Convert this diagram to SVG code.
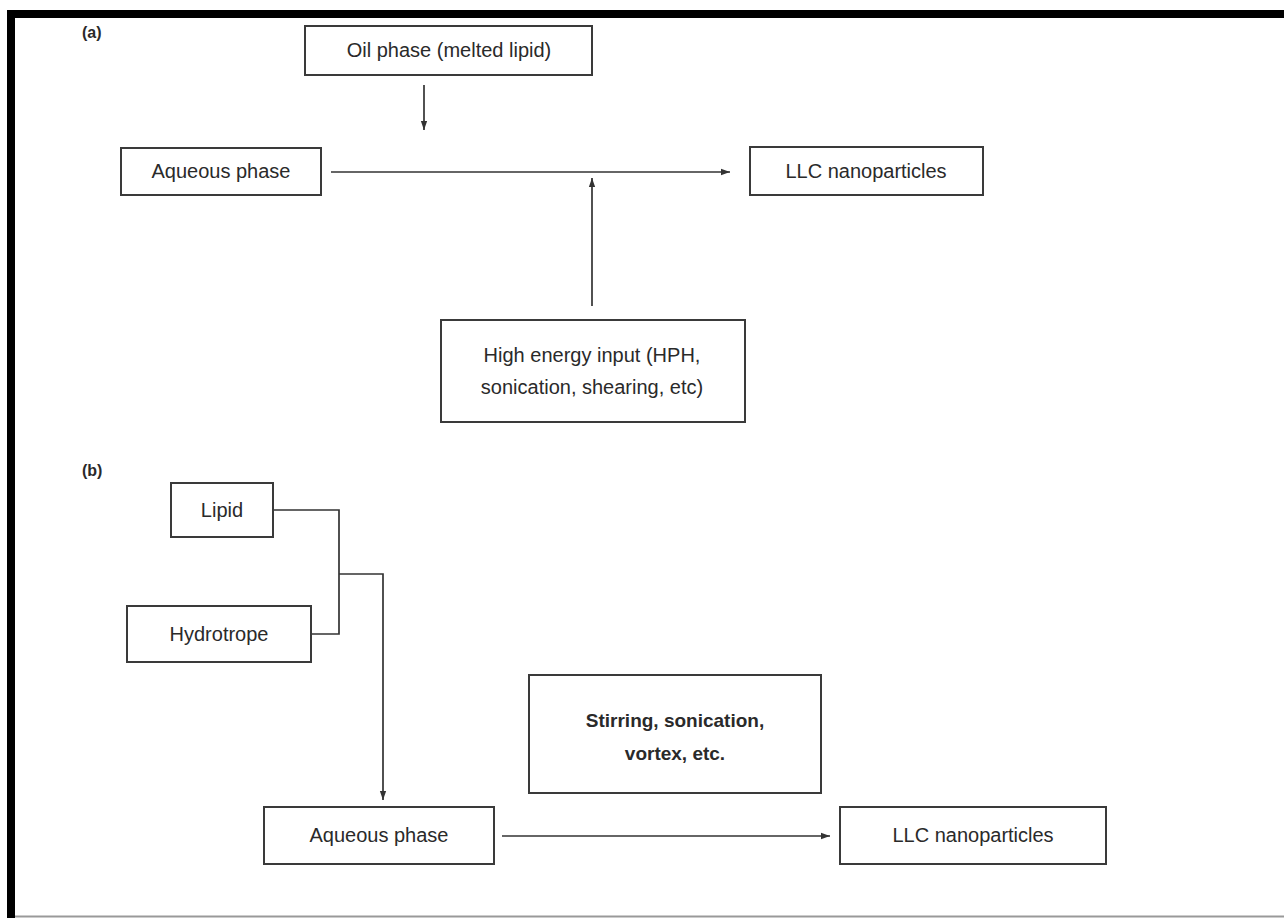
<svg xmlns="http://www.w3.org/2000/svg" width="1284" height="918" viewBox="0 0 1284 918">
<style>
.box{fill:#fff;stroke:#3a3a3a;stroke-width:2}
.t{font-family:"Liberation Sans",Arial,sans-serif;font-size:20px;fill:#2a2a2a;text-anchor:middle}
.b{font-weight:bold;font-size:19px}
.lbl{font-family:"Liberation Sans",Arial,sans-serif;font-size:16px;font-weight:bold;fill:#2a2a2a}
.c{fill:none;stroke:#333;stroke-width:1.7}
</style>
<defs>
<marker id="ah" viewBox="0 0 10 10" refX="10" refY="5" markerWidth="9" markerHeight="9" markerUnits="userSpaceOnUse" orient="auto">
<path d="M0,1.5 L10,5 L0,8.5 Z" fill="#333"/>
</marker>
</defs>
<rect x="0" y="0" width="1284" height="918" fill="#fff"/>
<rect x="7" y="10" width="1277" height="8" fill="#000"/>
<rect x="7" y="10" width="8" height="908" fill="#000"/>
<rect x="15" y="915.5" width="1269" height="2" fill="#999"/>
<text class="lbl" x="82" y="38">(a)</text>
<text class="lbl" x="82" y="476">(b)</text>
<g id="connectors">
<line class="c" x1="424" y1="85" x2="424" y2="130" marker-end="url(#ah)"/>
<line class="c" x1="331" y1="172" x2="730" y2="172" marker-end="url(#ah)"/>
<line class="c" x1="592" y1="306" x2="592" y2="178" marker-end="url(#ah)"/>
<polyline class="c" points="273,510 339,510 339,634 311,634"/>
<polyline class="c" points="339,574 383,574 383,800" marker-end="url(#ah)"/>
<line class="c" x1="502" y1="836" x2="830" y2="836" marker-end="url(#ah)"/>
</g>
<g id="oil"><rect class="box" x="305" y="26" width="287" height="49"/><text class="t" x="449" y="57">Oil phase (melted lipid)</text></g>
<g id="aq_a"><rect class="box" x="121" y="148" width="200" height="47"/><text class="t" x="221" y="178">Aqueous phase</text></g>
<g id="llc_a"><rect class="box" x="750" y="147" width="233" height="48"/><text class="t" x="866" y="178">LLC nanoparticles</text></g>
<g id="energy"><rect class="box" x="441" y="320" width="304" height="102"/><text class="t" x="592" y="362">High energy input (HPH,</text><text class="t" x="592" y="394">sonication, shearing, etc)</text></g>
<g id="lipid"><rect class="box" x="171" y="483" width="102" height="54"/><text class="t" x="222" y="517">Lipid</text></g>
<g id="hydrotrope"><rect class="box" x="127" y="606" width="184" height="56"/><text class="t" x="219" y="641">Hydrotrope</text></g>
<g id="stirring"><rect class="box" x="529" y="675" width="292" height="118"/><text class="t b" x="675" y="727">Stirring, sonication,</text><text class="t b" x="675" y="760">vortex, etc.</text></g>
<g id="aq_b"><rect class="box" x="264" y="807" width="230" height="57"/><text class="t" x="379" y="842">Aqueous phase</text></g>
<g id="llc_b"><rect class="box" x="840" y="807" width="266" height="57"/><text class="t" x="973" y="842">LLC nanoparticles</text></g>
</svg>
